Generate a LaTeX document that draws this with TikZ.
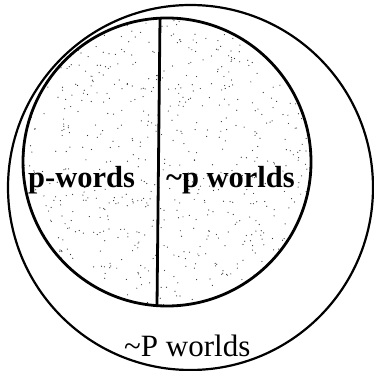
\documentclass[tikz,border=0pt]{standalone}
\usepackage{fontspec}
\setmainfont{Liberation Serif}
\begin{document}
\begin{tikzpicture}[x=1pt,y=-1pt,
  ring/.style={draw=black,line width=2.2pt},
  divider/.style={draw=black,line width=2.8pt},
  speck/.style={fill=black!80},
  lab/.style={anchor=base west,inner sep=0pt,font=\fontsize{31}{31}\selectfont},
  blab/.style={anchor=base west,inner sep=0pt,font=\fontsize{30.5}{30.5}\selectfont\bfseries}]
\useasboundingbox (0,0) rectangle (374,371);
\fill[white] (0,0) rectangle (374,371);
% outer circle
\draw[ring] (190.5,187.5) circle (182.5pt);
% speckle texture inside inner circle
\begin{scope}
  \clip (167,162) circle (144pt);
  \pgfmathsetseed{11}
  \foreach \i in {1,...,750}{
    \pgfmathsetmacro{\px}{167+144*rand}
    \pgfmathsetmacro{\py}{162+144*rand}
    \fill[speck] (\px,\py) circle (0.6pt);
  }
\end{scope}
% inner circle
\draw[divider] (167,162) circle (144pt);
% dividing line
\coordinate (top) at (160,18.2);
\coordinate (bot) at (157,305.6);
\draw[divider] (top) -- (bot);
% labels
\node[blab] (pw) at (28,188) {p-words};
\node[blab] (npw) at (166,188) {\char"7E p worlds};
\node[lab] (nPw) at (124,356) {\char"7E P worlds};
\end{tikzpicture}
\end{document}
